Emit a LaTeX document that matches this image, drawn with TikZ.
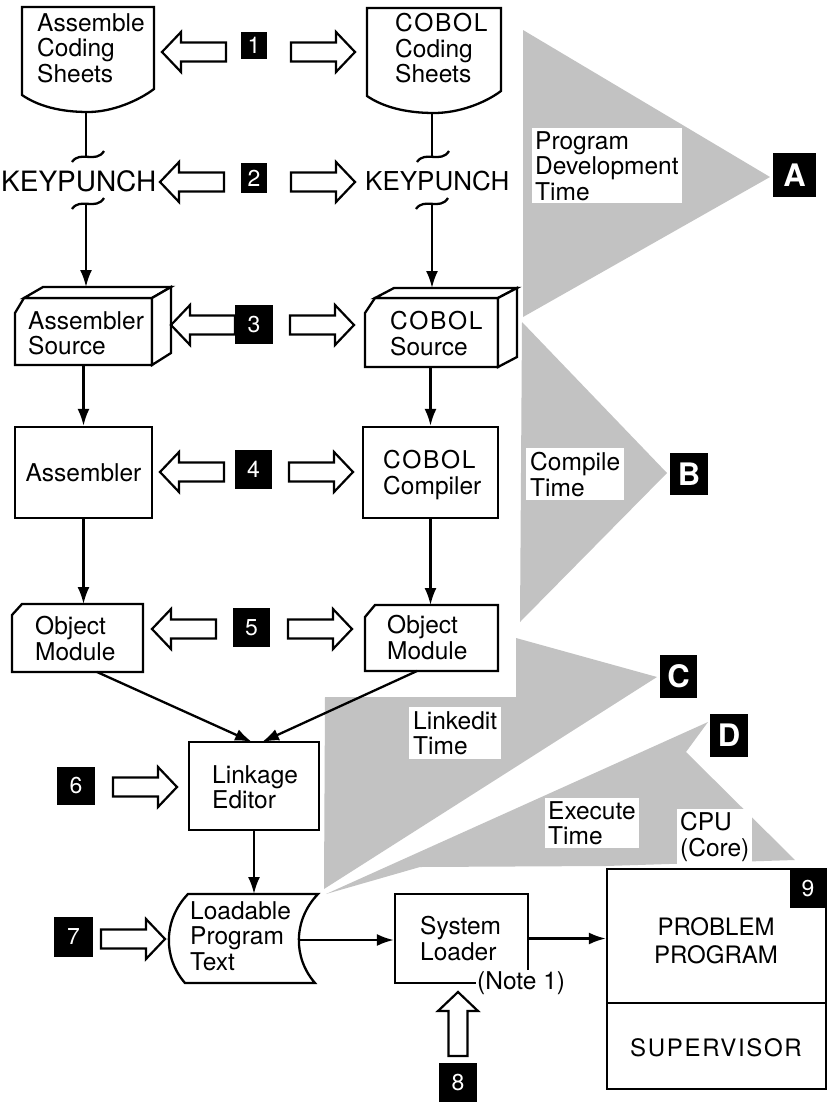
\documentclass[tikz,border=0pt]{standalone}
\usepackage{fontspec}
\setmainfont{TeX Gyre Heros}
\usetikzlibrary{arrows.meta}
% wide-set capitals used for the COBOL labels
\newcommand\widecaps[1]{{\addfontfeature{LetterSpace=7}#1}}
\begin{document}
\begin{tikzpicture}[x=1pt,y=-1pt,
  every node/.style={font=\fontsize{24.5}{25.5}\selectfont, inner sep=0pt},
  txt/.style={anchor=north west, align=left},
  outline/.style={draw, line width=2.3pt, line join=miter, fill=white},
  rbox/.style={draw, line width=2.3pt, fill=white},
  numbox/.style={fill=black, text=white, inner sep=0pt, font=\fontsize{23}{23}\selectfont},
  letbox/.style={fill=black, text=white, inner sep=0pt, font=\bfseries\fontsize{31}{31}\selectfont},
  band/.style={fill=black!24},
  tag/.style={fill=white, anchor=north west, align=left, inner sep=3pt},
  conn/.style={line width=2.3pt, -{Latex[length=17pt,width=12pt]}},
  link/.style={line width=2.3pt},
  hollow/.pic={\draw[line width=2.2pt, fill=white, line join=miter]
      (0,0) -- (-19,-20) -- (-19,-9.5) -- (-64,-9.5) -- (-64,9.5) -- (-19,9.5) -- (-19,20) -- cycle;},
  tildemark/.pic={\draw[line width=2.3pt] (-16,5) .. controls (-8,-7) and (8,7) .. (16,-6);}
]
\useasboundingbox (0,0) rectangle (828,1109);

% ---- shaded time spans ----
\fill[band] (523,30) -- (770,177) -- (523,317) -- cycle;
\fill[band] (522,322) -- (667,473) -- (520,622) -- cycle;
\fill[band] (516,638) -- (657,677) -- (324,889) -- (325,697) -- (516,697) -- cycle;
\fill[band] (326,894) -- (708,722) -- (686,752) -- (795,860) -- (606,866) -- (420,867) -- cycle;

\node[tag] (ta) at (532,128) {Program\\Development\\Time};
\node[tag, inner sep=4pt] (tb) at (526,448) {Compile\\Time};
\node[tag, inner sep=4pt] (tc) at (409,707) {Linkedit\\Time};
\node[tag] (td) at (545,798) {Execute\\Time};
\node[tag] (tcpu) at (677,809) {CPU\\(Core)};

\node[letbox, minimum width=43, minimum height=44] (la) at (794.5,175) {A};
\node[letbox, minimum width=38, minimum height=42] (lb) at (689,474) {B};
\node[letbox, minimum width=37, minimum height=43] (lc) at (678.5,676.5) {C};
\node[letbox, minimum width=38, minimum height=43] (ld) at (729,735.5) {D};

% ---- coding sheets ----
\draw[outline] (22,7) -- (154,7) -- (154,89) .. controls (138,101) and (112,112) .. (88,112)
   .. controls (60,112) and (38,106) .. (22,95) -- cycle;
\node[txt] (asheet) at (37,13) {Assemble\\Coding\\Sheets};
\draw[outline] (367,8) -- (501,8) -- (501,91) .. controls (485,103) and (459,113) .. (434,113)
   .. controls (406,113) and (383,107) .. (367,96) -- cycle;
\node[txt] (csheet) at (395,13) {\widecaps{COBOL}\\Coding\\Sheets};
\coordinate (asheet-b) at (86,112);
\coordinate (csheet-b) at (432,113);

% ---- keypunch ----
\node[anchor=west, font=\fontsize{28}{28}\selectfont] (kp1) at (1,181) {KEYPUNCH};
\node[anchor=west, font=\fontsize{26}{26}\selectfont] (kp2) at (365,181) {KEYPUNCH};
\coordinate (kp1-in) at (86,157);
\coordinate (kp1-out) at (86,204);
\coordinate (kp2-in) at (432,157);
\coordinate (kp2-out) at (432,204);
\draw[link] (asheet-b) -- (kp1-in);
\draw[link] (csheet-b) -- (kp2-in);
\pic at (88,157) {tildemark};
\pic at (88,204) {tildemark};
\pic at (433,157) {tildemark};
\pic at (432,204) {tildemark};

% ---- source decks ----
\draw[outline] (15,313) -- (24,298) -- (152,298) -- (152,365) -- (15,365) -- cycle;
\draw[outline] (24,298) -- (43,287) -- (171,287) -- (152,298) -- cycle;
\draw[outline] (152,298) -- (171,287) -- (171,353) -- (152,365) -- cycle;
\node[txt] (asrc) at (28,311) {Assembler\\Source};
\coordinate (asrc-top) at (86,287);
\coordinate (asrc-bot) at (83.5,365);

\draw[outline] (365,313) -- (375,298) -- (498,298) -- (498,367) -- (365,367) -- cycle;
\draw[outline] (375,298) -- (394,288) -- (517,288) -- (498,298) -- cycle;
\draw[outline] (498,298) -- (517,288) -- (517,357) -- (498,367) -- cycle;
\node[txt] (csrc) at (390,311) {\widecaps{COBOL}\\Source};
\coordinate (csrc-top) at (432,288);
\coordinate (csrc-bot) at (430.5,367);

\draw[conn] (kp1-out) -- (asrc-top);
\draw[conn] (kp2-out) -- (csrc-top);

% ---- translators ----
\node[rbox, minimum width=137, minimum height=91] (asm) at (83.5,472.5) {Assembler};
\node[rbox, minimum width=135, minimum height=91] (comp) at (430.5,472.5) {};
\node[txt] (comp-t) at (383,450) {\widecaps{COBOL}\\Compiler};
\draw[conn] (asrc-bot) -- (asm.north);
\draw[conn] (csrc-bot) -- (comp.north);

% ---- object modules ----
\draw[outline] (12,615) -- (22,604) -- (143,604) -- (143,672) -- (12,672) -- cycle;
\node[txt] (objl) at (35,616) {Object\\Module};
\draw[outline] (365,617) -- (375,605) -- (498,605) -- (498,671) -- (365,671) -- cycle;
\node[txt] (objr) at (387,615) {Object\\Module};
\coordinate (objl-top) at (83.5,604);
\coordinate (objr-top) at (430.5,605);
\coordinate (objl-bot) at (97,672);
\coordinate (objr-bot) at (417,671);
\draw[conn] (asm.south) -- (objl-top);
\draw[conn] (comp.south) -- (objr-top);

% ---- linkage editor ----
\node[rbox, minimum width=130, minimum height=88] (led) at (254,786) {};
\node[txt] (led-t) at (212,765) {Linkage\\Editor};
\coordinate (led-in1) at (252,742);
\coordinate (led-in2) at (262,742);
\draw[conn] (objl-bot) -- (led-in1);
\draw[conn] (objr-bot) -- (led-in2);

% ---- loadable program text ----
\draw[outline] (188,894) -- (318,894) .. controls (293,920) and (293,958) .. (315,983)
   -- (185,983) .. controls (163,958) and (163,920) .. (188,894) -- cycle;
\node[txt] (load) at (190,901) {Loadable\\Program\\Text};
\coordinate (load-top) at (254,894);
\coordinate (load-r) at (300,940);
\draw[conn] (led.south) -- (load-top);

% ---- system loader ----
\node[rbox, minimum width=133, minimum height=89] (sysl) at (461.5,938.5) {};
\node[txt] (sysl-t) at (420,916) {System\\Loader};
\node[anchor=west, fill=white, inner sep=1pt] (note) at (476,983) {(Note 1)};
\draw[conn] (load-r) -- (load-r -| sysl.west);

% ---- CPU ----
\node[rbox, minimum width=219, minimum height=134] (prob) at (716.5,936) {};
\node[rbox, minimum width=219, minimum height=86] (sup) at (716.5,1046) {};
\node[align=center, anchor=north, font=\fontsize{24}{28}\selectfont] (prob-t) at (716,917) {PROBLEM\\PROGRAM};
\node[font=\fontsize{24}{28}\selectfont] (sup-t) at (716,1048) {\widecaps{SUPERVISOR}};
\draw[conn] (sysl.east) -- (sysl.east -| prob.west);

% ---- numbered callouts ----
\node[numbox, minimum width=26, minimum height=27] (n1) at (254,45.5) {1};
\node[numbox, minimum width=26, minimum height=30] (n2) at (254,178) {2};
\node[numbox, minimum width=38, minimum height=39] (n3) at (254,324.5) {3};
\node[numbox, minimum width=37, minimum height=39] (n4) at (253.5,469.5) {4};
\node[numbox, minimum width=37, minimum height=39] (n5) at (251.5,627.5) {5};
\node[numbox, minimum width=38, minimum height=38] (n6) at (76,786) {6};
\node[numbox, minimum width=39, minimum height=40] (n7) at (73.5,937) {7};
\node[numbox, minimum width=38, minimum height=39] (n8) at (458,1082.5) {8};
\node[numbox, minimum width=36, minimum height=39] (n9) at (808,888.5) {9};

\pic[rotate=180] at (162,52) {hollow};
\pic at (355,52) {hollow};
\pic[rotate=180] at (160,182) {hollow};
\pic at (355,182) {hollow};
\pic[rotate=180] at (171,325) {hollow};
\pic at (354,325) {hollow};
\pic[rotate=180] at (160,472) {hollow};
\pic at (353,472) {hollow};
\pic[rotate=180] at (152,629) {hollow};
\pic at (352,629) {hollow};
\pic at (177,787) {hollow};
\pic at (165,939) {hollow};
\pic[rotate=90] at (458,992) {hollow};
\end{tikzpicture}
\end{document}
